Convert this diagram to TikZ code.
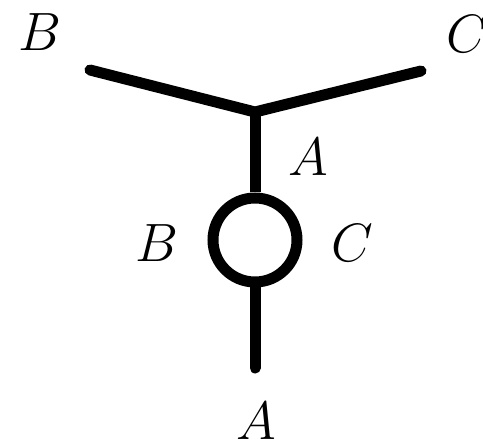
\documentclass[tikz,border=0pt]{standalone}
\begin{document}
\begin{tikzpicture}[x=1pt,y=-1pt,
  edge/.style={line width=11pt,line cap=round,line join=miter},
  lbl/.style={inner sep=0pt,font=\Huge,scale=2.17}]
\useasboundingbox (0,0) rectangle (483,444);
\coordinate (j) at (255,112);
\coordinate (l) at (90,70);
\coordinate (r) at (421,71);
\coordinate (e) at (255,368);
\node[circle,draw,line width=11pt,minimum size=84pt,inner sep=0pt] (o) at (255,240) {};
\draw[edge] (l) -- (j) -- (r);
\draw[line width=11pt] (j) -- (o.north);
\draw[edge] (o.south) -- (e);
\node[lbl] (b1) at (40,32) {$B$};
\node[lbl] (c1) at (467,34) {$C$};
\node[lbl] (a1) at (308,157) {$A$};
\node[lbl] (b2) at (157,243) {$B$};
\node[lbl] (c2) at (352,243) {$C$};
\node[lbl] (a2) at (256,421) {$A$};
\end{tikzpicture}
\end{document}
